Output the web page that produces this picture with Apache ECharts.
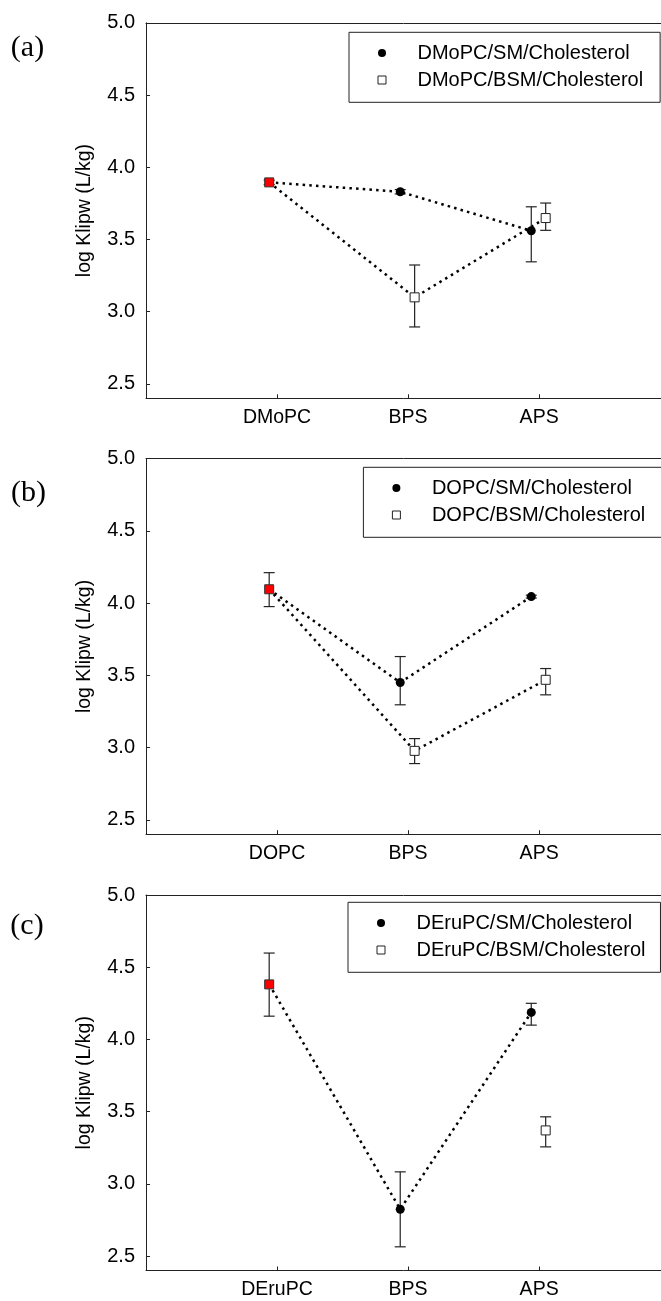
<!DOCTYPE html>
<html>
<head>
<meta charset="utf-8">
<script src="https://cdn.jsdelivr.net/npm/echarts@6/dist/echarts.min.js"></script>
<style>
html,body{margin:0;padding:0;background:#fff;}
#chart{width:661px;height:1301px;}
</style>
</head>
<body>
<div id="chart"></div>
<script>
// ---- data ----
const panelLabels = ['(a)', '(b)', '(c)'];
const lipids = ['DMoPC', 'DOPC', 'DEruPC'];
const stages = ['BPS', 'APS'];
const smLabels = ['DMoPC/SM/Cholesterol', 'DOPC/SM/Cholesterol', 'DEruPC/SM/Cholesterol'];
const bsmLabels = ['DMoPC/BSM/Cholesterol', 'DOPC/BSM/Cholesterol', 'DEruPC/BSM/Cholesterol'];
const yTicks = [2.5, 3.0, 3.5, 4.0, 4.5, 5.0];

// pure lipid (red square) values and error limits
const pureValues = [3.895, 4.096, 4.381];
const pureErrLow = [3.880, 3.976, 4.161];
const pureErrHigh = [3.910, 4.211, 4.598];

// SM/Cholesterol values [BPS, APS]
const smValues = [[3.830, 3.560], [3.450, 4.045], [2.824, 4.187]];
const smErrLow = [[3.815, 3.345], [3.296, 4.035], [2.564, 4.099]];
const smErrHigh = [[3.845, 3.726], [3.630, 4.055], [3.083, 4.250]];

// BSM/Cholesterol values [BPS, APS]
const bsmValues = [[3.099, 3.648], [2.977, 3.469], [null, 3.370]];
const bsmErrLow = [[2.894, 3.563], [2.889, 3.365], [null, 3.256]];
const bsmErrHigh = [[3.323, 3.752], [3.062, 3.547], [null, 3.464]];

// ---- layout / style ----
const FONT = 'Liberation Sans, Arial, sans-serif';
const gridTops = [22.8, 458.7, 895];
const gridHeight = 375.5;
const xMax = 3.93;
const smOffset = -0.06, bsmOffset = 0.05;
const legendLefts = [349, 363.4, 348];
const legendTops = [32.3, 467.3, 902.3];
const legendPadRight = [17, 19.5, 15];
const labelPos = [[27.5, 48], [28.5, 493], [27, 926]];

const chart = echarts.init(document.getElementById('chart'), null, {renderer: 'canvas'});

const grids = [], xAxes = [], yAxes = [], series = [], legends = [], graphics = [];

function errRender(params, api) {
  const x = api.value(0);
  const lo = api.coord([x, api.value(1)]);
  const hi = api.coord([x, api.value(2)]);
  const w = 5.5;
  const style = {stroke: '#222', lineWidth: 1.2};
  return {
    type: 'group',
    children: [
      {type: 'line', shape: {x1: lo[0], y1: lo[1], x2: hi[0], y2: hi[1]}, style},
      {type: 'line', shape: {x1: lo[0] - w, y1: lo[1], x2: lo[0] + w, y2: lo[1]}, style},
      {type: 'line', shape: {x1: hi[0] - w, y1: hi[1], x2: hi[0] + w, y2: hi[1]}, style}
    ]
  };
}

const topAxes = [];
for (let i = 0; i < 3; i++) {
  const cats = [lipids[i]].concat(stages);
  grids.push({left: 146, right: 0, top: gridTops[i], height: gridHeight});
  xAxes.push({
    gridIndex: i, type: 'value', min: 0, max: xMax, position: 'bottom',
    axisLine: {show: true, onZero: false, lineStyle: {color: '#222', width: 1}},
    axisTick: {show: true, inside: true, length: 4, customValues: [1, 2, 3], lineStyle: {color: '#222'}},
    axisLabel: {customValues: [1, 2, 3], formatter: v => cats[Math.round(v) - 1] || '',
      margin: 9, fontSize: 19.5, color: '#000', fontFamily: FONT},
    splitLine: {show: false}
  });
  topAxes.push({
    gridIndex: i, type: 'value', min: 0, max: xMax, position: 'top',
    axisLine: {show: true, onZero: false, lineStyle: {color: '#222', width: 1}},
    axisTick: {show: false}, axisLabel: {show: false}, splitLine: {show: false}
  });
  yAxes.push({
    gridIndex: i, type: 'value', min: 2.4, max: 5.0,
    name: 'log Klipw (L/kg)', nameLocation: 'middle', nameRotate: 90, nameGap: 51,
    nameTextStyle: {fontSize: 19.5, color: '#000', fontFamily: FONT},
    axisLine: {show: true, onZero: false, lineStyle: {color: '#222', width: 1}},
    axisTick: {show: true, inside: true, length: 4, customValues: yTicks, lineStyle: {color: '#222'}},
    axisLabel: {customValues: yTicks, formatter: v => v.toFixed(1),
      margin: 11, fontSize: 20, color: '#000', fontFamily: FONT},
    splitLine: {show: false}
  });

  const pureX = 1 + smOffset;
  const smPts = smValues[i].map((v, k) => [2 + k + smOffset, v]);
  const bsmPts = bsmValues[i].map((v, k) => [2 + k + bsmOffset, v == null ? '-' : v]);

  const dotted = {color: '#000', width: 2.5, type: [2.5, 4.2]};
  series.push({type: 'line', xAxisIndex: i, yAxisIndex: i, symbol: 'none', z: 1,
    data: [[pureX, pureValues[i]]].concat(smPts), lineStyle: dotted, silent: true});
  if (i !== 2) {
    series.push({type: 'line', xAxisIndex: i, yAxisIndex: i, symbol: 'none', z: 1,
      data: [[pureX, pureValues[i]]].concat(bsmPts), lineStyle: dotted, silent: true});
  }

  // error bars
  const errData = [[pureX, pureErrLow[i], pureErrHigh[i]]];
  smErrLow[i].forEach((lo, k) => errData.push([2 + k + smOffset, lo, smErrHigh[i][k]]));
  bsmErrLow[i].forEach((lo, k) => { if (lo != null) errData.push([2 + k + bsmOffset, lo, bsmErrHigh[i][k]]); });
  series.push({type: 'custom', xAxisIndex: i, yAxisIndex: i, z: 2, silent: true,
    renderItem: errRender, encode: {x: 0, y: [1, 2]}, data: errData});

  series.push({type: 'scatter', name: smLabels[i], xAxisIndex: i, yAxisIndex: i, z: 3,
    symbol: 'circle', symbolSize: 9, itemStyle: {color: '#000', opacity: 1}, data: smPts});
  series.push({type: 'scatter', name: bsmLabels[i], xAxisIndex: i, yAxisIndex: i, z: 4,
    symbol: 'rect', symbolSize: 9, itemStyle: {color: '#fff', borderColor: '#222', borderWidth: 1, opacity: 1},
    data: bsmPts.filter(p => p[1] !== '-')});
  series.push({type: 'scatter', xAxisIndex: i, yAxisIndex: i, z: 5,
    symbol: 'rect', symbolSize: 9, itemStyle: {color: '#ff0000', borderColor: '#333', borderWidth: 1, opacity: 1},
    data: [[pureX, pureValues[i]]]});

  legends.push({
    left: legendLefts[i], top: legendTops[i], orient: 'vertical', selectedMode: false,
    backgroundColor: '#fff', borderColor: '#222', borderWidth: 1,
    padding: [10.7, legendPadRight[i], 12.3, 28.5],
    itemWidth: 8, itemHeight: 8, itemGap: 7,
    textStyle: {fontSize: 20, lineHeight: 20, color: '#000', fontFamily: FONT, padding: [0, 0, 0, 26.5]},
    data: [
      {name: smLabels[i], icon: 'circle', itemStyle: {color: '#000', borderWidth: 0}},
      {name: bsmLabels[i], icon: 'rect', itemStyle: {color: '#fff', borderColor: '#222', borderWidth: 1}}
    ]
  });

  graphics.push({type: 'text', x: labelPos[i][0], y: labelPos[i][1],
    style: {text: panelLabels[i], fontSize: 30, fontFamily: 'Liberation Serif, Times New Roman, serif',
      fill: '#000', align: 'center', verticalAlign: 'middle'}});
}

chart.setOption({
  animation: false,
  backgroundColor: '#fff',
  grid: grids, xAxis: xAxes.concat(topAxes), yAxis: yAxes, series: series, legend: legends, graphic: graphics
});
</script>
</body>
</html>
